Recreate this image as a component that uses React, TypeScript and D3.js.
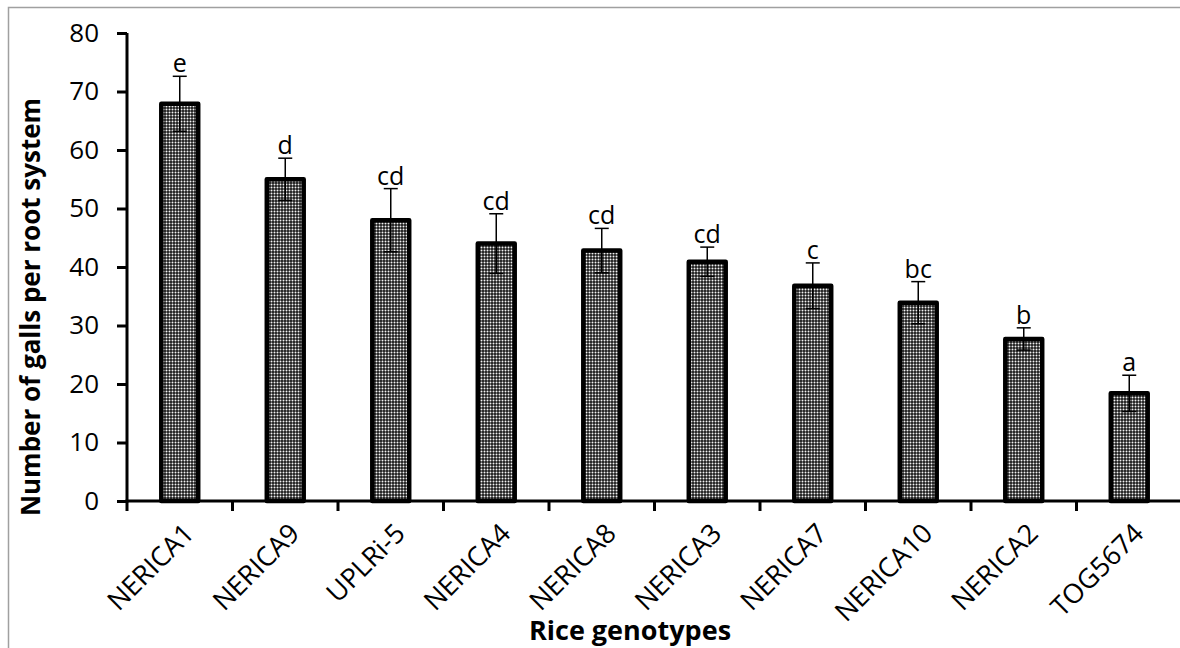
import { useRef, useEffect } from 'react';
import * as d3 from 'd3';

const genotypes = ['NERICA1', 'NERICA9', 'UPLRi-5', 'NERICA4', 'NERICA8', 'NERICA3', 'NERICA7', 'NERICA10', 'NERICA2', 'TOG5674'];
const galls = [67.9, 55.0, 48.0, 44.0, 42.8, 40.9, 36.8, 33.9, 27.7, 18.4];
const errors = [4.7, 3.6, 5.4, 5.1, 3.8, 2.5, 3.9, 3.6, 1.9, 3.1];
const letters = ['e', 'd', 'cd', 'cd', 'cd', 'cd', 'c', 'bc', 'b', 'a'];
const yTicks = [0, 10, 20, 30, 40, 50, 60, 70, 80];

export default function App() {
  const svgRef = useRef<SVGSVGElement>(null);

  useEffect(() => {
    if (!svgRef.current) return;
    const width = 1180;
    const height = 648;
    const margin = { left: 127, right: -2, top: 33, bottom: 147 };
    const font = "'Open Sans', sans-serif";

    const svg = d3.select(svgRef.current).attr('width', width).attr('height', height);
    svg.selectAll('*').remove();

    // fill pattern: dark with fine white dots
    const defs = svg.append('defs');
    const pat = defs.append('pattern')
      .attr('id', 'dots')
      .attr('patternUnits', 'userSpaceOnUse')
      .attr('width', 6).attr('height', 6);
    pat.append('rect').attr('width', 6).attr('height', 6).attr('fill', '#1a1a1a');
    [[1.5, 1.5], [4.5, 1.5], [1.5, 4.5], [4.5, 4.5]].forEach(([cx, cy]) => {
      pat.append('circle').attr('cx', cx).attr('cy', cy).attr('r', 1).attr('fill', '#f2f2f2');
    });

    // outer border
    svg.append('rect')
      .attr('x', 8.5).attr('y', 7.5)
      .attr('width', width + 20).attr('height', height + 20)
      .attr('fill', 'white').attr('stroke', '#a0a0a0').attr('stroke-width', 1.5);

    const x = d3.scaleBand<string>()
      .domain(genotypes)
      .range([margin.left, width - margin.right])
      .paddingInner(0.65)
      .paddingOuter(0.325);

    const y = d3.scaleLinear()
      .domain([0, 80])
      .range([height - margin.bottom, margin.top]);

    const y0 = y(0);

    // bars
    svg.append('g')
      .selectAll('rect')
      .data(galls)
      .join('rect')
      .attr('x', (_, i) => x(genotypes[i])!)
      .attr('y', d => y(d))
      .attr('width', x.bandwidth())
      .attr('height', d => y0 - y(d))
      .attr('fill', 'url(#dots)')
      .attr('stroke', '#000')
      .attr('stroke-width', 4.5)
      .attr('stroke-linejoin', 'round');

    // error bars
    const eb = svg.append('g').attr('stroke', '#000').attr('stroke-width', 1.5);
    galls.forEach((v, i) => {
      const cx = x(genotypes[i])! + x.bandwidth() / 2;
      const top = y(v + errors[i]);
      const bot = y(v - errors[i]);
      eb.append('line').attr('x1', cx).attr('x2', cx).attr('y1', top).attr('y2', bot);
      eb.append('line').attr('x1', cx - 7).attr('x2', cx + 7).attr('y1', top).attr('y2', top);
      eb.append('line').attr('x1', cx - 7).attr('x2', cx + 7).attr('y1', bot).attr('y2', bot);
    });

    // significance letters
    svg.append('g')
      .selectAll('text')
      .data(letters)
      .join('text')
      .attr('x', (_, i) => x(genotypes[i])! + x.bandwidth() / 2)
      .attr('y', (_, i) => y(galls[i] + errors[i]) - 4)
      .attr('text-anchor', 'middle')
      .attr('font-family', font)
      .attr('font-size', 25)
      .attr('fill', '#000')
      .text(d => d);

    // y axis
    const yAxis = svg.append('g')
      .attr('transform', `translate(${margin.left},0)`)
      .call(d3.axisLeft(y).tickValues(yTicks).tickSize(10).tickPadding(18));
    yAxis.select('.domain').attr('stroke-width', 3).attr('d', `M-0,${y(80)}V${y0 + 1.5}`);
    yAxis.selectAll('.tick line').attr('stroke-width', 3);
    yAxis.selectAll('.tick text')
      .attr('font-family', font)
      .attr('font-size', 26)
      .attr('fill', '#000');

    // x axis line and ticks between categories
    const xg = svg.append('g');
    xg.append('line')
      .attr('x1', margin.left - 1.5).attr('x2', width + 5)
      .attr('y1', y0).attr('y2', y0)
      .attr('stroke', '#000').attr('stroke-width', 3);
    d3.range(genotypes.length + 1).forEach(i => {
      const tx = margin.left + i * x.step();
      xg.append('line')
        .attr('x1', tx).attr('x2', tx)
        .attr('y1', y0).attr('y2', y0 + 10)
        .attr('stroke', '#000').attr('stroke-width', 3);
    });

    // x labels, rotated
    xg.selectAll('text.cat')
      .data(genotypes)
      .join('text')
      .attr('class', 'cat')
      .attr('transform', d => `translate(${x(d)! + x.bandwidth() / 2 + 16},${y0 + 34}) rotate(-45)`)
      .attr('text-anchor', 'end')
      .attr('font-family', font)
      .attr('font-size', 27)
      .attr('fill', '#000')
      .text(d => d);

    // axis titles
    svg.append('text')
      .attr('x', 630)
      .attr('y', 640)
      .attr('text-anchor', 'middle')
      .attr('font-family', font)
      .attr('font-weight', 'bold')
      .attr('font-size', 27)
      .attr('fill', '#000')
      .text('Rice genotypes');

    svg.append('text')
      .attr('transform', `translate(40,307) rotate(-90)`)
      .attr('text-anchor', 'middle')
      .attr('font-family', font)
      .attr('font-weight', 'bold')
      .attr('font-size', 26)
      .attr('fill', '#000')
      .text('Number of galls per root system');
  }, []);

  return (
    <svg ref={svgRef} style={{ position: 'absolute', left: 0, top: 0, display: 'block' }}></svg>
  );
}
